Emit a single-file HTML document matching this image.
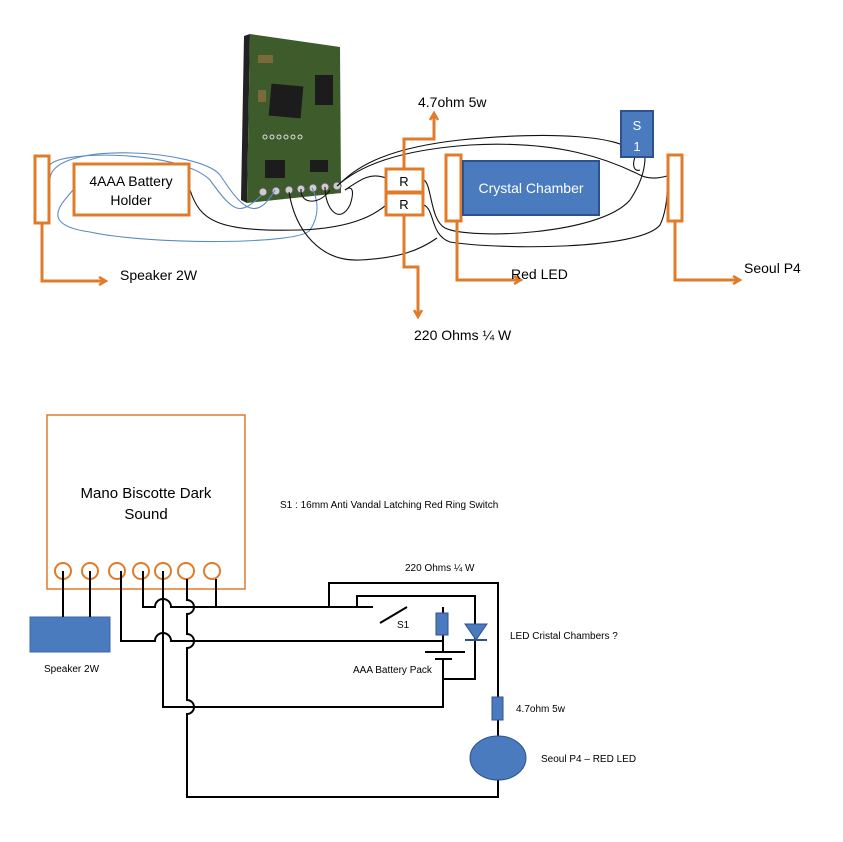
<!DOCTYPE html>
<html><head><meta charset="utf-8"><style>
html,body{margin:0;padding:0;background:#fff;}
svg{display:block;}
text{font-family:"Liberation Sans",sans-serif;}
</style></head><body>
<svg width="843" height="842" viewBox="0 0 843 842" xmlns="http://www.w3.org/2000/svg">
<defs>
<marker id="ah" markerWidth="10" markerHeight="10" refX="8" refY="5" orient="auto" markerUnits="userSpaceOnUse">
<path d="M1,1 L8,5 L1,9" fill="none" stroke="#e07b2a" stroke-width="2.5"/>
</marker>
</defs>
<!-- ===== TOP ===== -->
<!-- PCB -->
<polygon points="244,36 250,34 247,203 241,200" fill="#222"/>
<polygon points="250,34 340,47 341,193 247,203" fill="#3e5b2c"/>
<rect x="270" y="85" width="32" height="32" fill="#1c1c1c" transform="rotate(5 286 101)"/>
<rect x="315" y="75" width="18" height="30" fill="#1c1c1c"/>
<rect x="265" y="160" width="20" height="18" fill="#1c1c1c"/>
<rect x="310" y="160" width="18" height="12" fill="#1c1c1c"/>
<rect x="258" y="55" width="15" height="8" fill="#7a6a3a"/>
<rect x="258" y="90" width="8" height="12" fill="#7a6a3a"/>
<g fill="#ccc" stroke="#555" stroke-width="1">
<circle cx="263" cy="192" r="4"/><circle cx="276" cy="191" r="4"/><circle cx="289" cy="190" r="4"/><circle cx="301" cy="189" r="4"/><circle cx="313" cy="188" r="4"/><circle cx="325" cy="187" r="4"/><circle cx="337" cy="186" r="4"/>
</g>
<g fill="none" stroke="#ddd" stroke-width="1"><circle cx="265" cy="137" r="2"/><circle cx="272" cy="137" r="2"/><circle cx="279" cy="137" r="2"/><circle cx="286" cy="137" r="2"/><circle cx="293" cy="137" r="2"/><circle cx="300" cy="137" r="2"/></g>
<!-- blue wires -->
<g fill="none" stroke="#5b8cc4" stroke-width="1.1">
<path d="M50,178 C55,140 200,150 220,175 C240,205 255,225 275,190"/>
<path d="M50,165 C60,150 180,150 210,180 C235,215 240,215 262,195"/>
<path d="M73,190 C60,205 40,225 90,232 C150,245 300,245 310,230 C320,215 318,200 312,188"/>
</g>
<!-- black wires -->
<g fill="none" stroke="#111" stroke-width="1.1">
<path d="M190,190 C200,220 215,232 300,230 C360,228 380,210 386,205"/>
<path d="M289,192 C295,230 320,262 360,260 C400,258 420,250 437,238"/>
<path d="M301,189 C300,205 320,205 330,190"/>
<path d="M325,187 C325,210 340,225 350,205 C355,190 352,185 345,190"/>
<path d="M337,186 C350,175 370,150 460,140 C560,130 620,138 630,150"/>
<path d="M337,186 C360,165 400,150 470,145 C560,140 610,160 640,175 C650,180 660,178 667,176"/>
<path d="M345,190 C360,180 370,172 386,178"/>
<path d="M424,180 C432,185 430,220 445,228 C470,240 600,235 630,200 C640,185 645,170 645,157"/>
<path d="M424,205 C435,210 430,235 450,242 C500,250 640,250 660,225 C665,215 667,200 667,192"/>
<path d="M635,157 C632,165 634,172 640,170"/>
</g>
<!-- orange parts -->
<g fill="#fff" stroke="#e07b2a" stroke-width="3">
<rect x="35" y="156" width="14" height="67"/>
<rect x="74" y="164" width="115" height="51"/>
<rect x="386" y="169" width="37" height="23"/>
<rect x="386" y="193" width="37" height="22"/>
<rect x="446" y="155" width="15" height="66"/>
<rect x="668" y="155" width="14" height="66"/>
</g>
<g fill="none" stroke="#e07b2a" stroke-width="3">
<path d="M42,223 V281 H106" marker-end="url(#ah)"/>
<path d="M404,169 V139 H434 V113" marker-end="url(#ah)"/>
<path d="M404,215 V267 H418 V317" marker-end="url(#ah)"/>
<path d="M457,221 V280 H521" marker-end="url(#ah)"/>
<path d="M675,221 V280 H740" marker-end="url(#ah)"/>
</g>
<rect x="463" y="161" width="136" height="54" fill="#4a7bbf" stroke="#2f528f" stroke-width="2"/>
<rect x="621" y="111" width="32" height="46" fill="#4a7bbf" stroke="#2f528f" stroke-width="2"/>
<g font-size="14" fill="#000">
<text x="131" y="186" text-anchor="middle">4AAA Battery</text>
<text x="131" y="205" text-anchor="middle">Holder</text>
<text x="404" y="186" text-anchor="middle" font-size="13">R</text>
<text x="404" y="209" text-anchor="middle" font-size="13">R</text>
<text x="418" y="107">4.7ohm 5w</text>
<text x="414" y="340">220 Ohms ¼ W</text>
<text x="511" y="279">Red LED</text>
<text x="744" y="273">Seoul P4</text>
<text x="120" y="280">Speaker 2W</text>
</g>
<text x="531" y="193" text-anchor="middle" font-size="14" fill="#fff">Crystal Chamber</text>
<text x="637" y="130" text-anchor="middle" font-size="13" fill="#fff">S</text>
<text x="637" y="151" text-anchor="middle" font-size="13" fill="#fff">1</text>
<!-- ===== BOTTOM ===== -->
<rect x="47" y="415" width="198" height="174" fill="#fff" stroke="#e07b2a" stroke-width="1.5"/>
<g fill="#fff" stroke="#e07b2a" stroke-width="2">
<circle cx="63" cy="571" r="8"/><circle cx="90" cy="571" r="8"/><circle cx="117" cy="571" r="8"/><circle cx="141" cy="571" r="8"/><circle cx="163" cy="571" r="8"/><circle cx="186" cy="571" r="8"/><circle cx="212" cy="571" r="8"/>
</g>
<text x="146" y="498" text-anchor="middle" font-size="15">Mano Biscotte Dark</text>
<text x="146" y="519" text-anchor="middle" font-size="15">Sound</text>
<text x="280" y="508" font-size="10">S1 : 16mm Anti Vandal Latching Red Ring Switch</text>
<rect x="30" y="617" width="80" height="35" fill="#4a7bbf" stroke="#3a68a8" stroke-width="1"/>
<g fill="none" stroke="#000" stroke-width="2">
<path d="M63,571 V617 M90,571 V617"/>
<!-- wire 607 -->
<path d="M143,571 V607 H155 A8,8 0 0 1 171,607 H188 A6,6 0 0 1 188,607 H373"/>
<!-- wire 641 -->
<path d="M121,571 V641 H155 A8,8 0 0 1 171,641 H443"/>
<!-- x=163 vertical -->
<path d="M163,571 V707 H443 V658"/>
<!-- x=188 vertical with bumps -->
<path d="M187,579 V600 A7,7 0 0 1 187,614 V634 A7,7 0 0 1 187,648 V700 A7,7 0 0 1 187,714 V797 H498 V780"/>
<path d="M216,579 V607"/>
<!-- top loops -->
<path d="M329,607 V583 H498 V697"/>
<path d="M357,607 V596 H475 V679 H443"/>
<!-- switch -->
<path d="M380,623 L407,607"/>
<path d="M443,607 V613 M443,635 V652"/>
<path d="M425,652 H465"/>
<path d="M435,659 H452"/>
<path d="M498,720 V736"/>
<path d="M475,596 V624"/>
</g>
<rect x="436" y="613" width="12" height="22" fill="#4a7bbf" stroke="#2f528f" stroke-width="1"/>
<polygon points="465,624 487,624 476,640" fill="#4a7bbf" stroke="#2f528f" stroke-width="1"/>
<line x1="465" y1="640" x2="487" y2="640" stroke="#2f528f" stroke-width="2"/>
<rect x="492" y="697" width="11" height="23" fill="#4a7bbf" stroke="#2f528f" stroke-width="1"/>
<ellipse cx="498" cy="758" rx="28" ry="22" fill="#4a7bbf" stroke="#2f528f" stroke-width="1"/>
<g font-size="10" fill="#000">
<text x="405" y="571">220 Ohms ¼ W</text>
<text x="397" y="628">S1</text>
<text x="510" y="639">LED Cristal Chambers ?</text>
<text x="353" y="673">AAA Battery Pack</text>
<text x="516" y="712">4.7ohm 5w</text>
<text x="541" y="762">Seoul P4 – RED LED</text>
<text x="44" y="672">Speaker 2W</text>
</g>
</svg>
</body></html>
